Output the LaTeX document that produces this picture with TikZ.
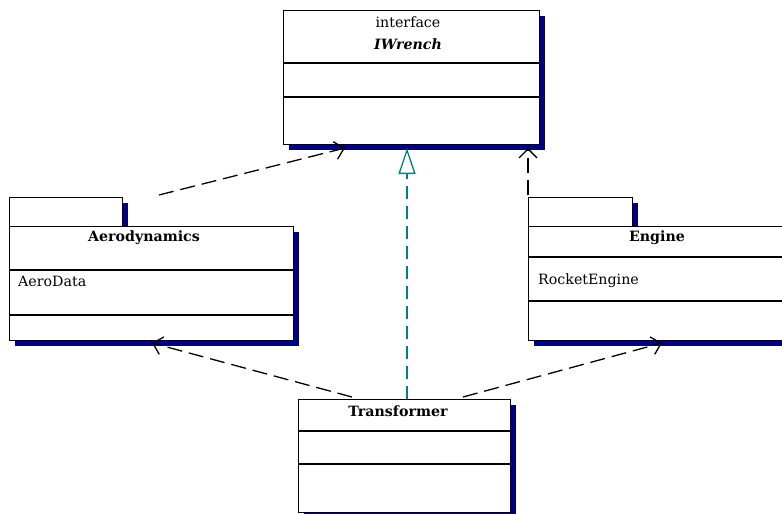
\documentclass[tikz,border=0pt]{standalone}
\usepackage{fontspec}
\setmainfont{DejaVu Serif}
\usetikzlibrary{arrows.meta,shadows}
\definecolor{shadowc}{RGB}{0,0,128}
\definecolor{realc}{RGB}{0,128,128}
\tikzset{
  umlbox/.style={draw=black, line width=1.2pt, fill=white, anchor=north west, inner sep=0pt,
    general shadow={fill=shadowc, shadow xshift=5pt, shadow yshift=-5pt}},
  divider/.style={draw=black, line width=1.2pt},
  txt/.style={inner sep=0pt, font=\fontsize{14.2}{16}\selectfont},
  dep/.style={draw=black, line width=1.3pt, dash pattern=on 15pt off 7pt,
    -{Straight Barb[length=9pt,width=18pt,line width=1.3pt]}},
  real/.style={draw=realc, line width=1.3pt, dash pattern=on 13pt off 7pt,
    -{Triangle[open, length=26pt, width=17pt, line width=1.3pt]}},
}
\begin{document}
\begin{tikzpicture}[x=1pt,y=-1pt]
\useasboundingbox (0,0) rectangle (782,514);
% IWrench
\node[umlbox, minimum width=256pt, minimum height=134pt] (iw) at (283,10) {};
\draw[divider] (283,63) -- (539,63);
\draw[divider] (283,97) -- (539,97);
\node[txt] (iwst) at (408,22) {interface};
\node[txt, font=\fontsize{14.2}{16}\selectfont\bfseries\itshape] (iwn) at (408,44) {IWrench};
% Aerodynamics package
\node[umlbox, minimum width=113pt, minimum height=29pt] (aerotab) at (9,197) {};
\node[umlbox, minimum width=284pt, minimum height=114pt] (aero) at (9,226) {};
\draw[divider] (9,270) -- (293,270);
\draw[divider] (9,315) -- (293,315);
\node[txt, font=\fontsize{14.2}{16}\selectfont\bfseries] (aeron) at (144,238) {Aerodynamics};
\node[txt, anchor=west] (aerod) at (18,281) {AeroData};
% Engine package
\node[umlbox, minimum width=104pt, minimum height=29pt] (engtab) at (528,197) {};
\node[umlbox, minimum width=258pt, minimum height=114pt] (eng) at (528,226) {};
\draw[divider] (528,257) -- (786,257);
\draw[divider] (528,301) -- (786,301);
\node[txt, font=\fontsize{14.2}{16}\selectfont\bfseries] (engn) at (657,238) {Engine};
\node[txt, anchor=west] (engd) at (538,281) {RocketEngine};
% Transformer
\node[umlbox, minimum width=212pt, minimum height=113pt] (tr) at (298,399) {};
\draw[divider] (298,431) -- (510,431);
\draw[divider] (298,464) -- (510,464);
\node[txt, font=\fontsize{14.2}{16}\selectfont\bfseries] (trn) at (398,411) {Transformer};
% connector end points
\coordinate (a1) at (159,195);
\coordinate (iwA) at (345,148);
\coordinate (iwB) at (407,148);
\coordinate (iwC) at (528,148);
\coordinate (e1) at (528,195);
\coordinate (t1) at (407,399);
\coordinate (t2) at (352,397);
\coordinate (t3) at (463,397);
\coordinate (aeroB) at (152,343);
\coordinate (engB) at (662,343);
% connectors
\draw[dep] (a1) -- (iwA);
\draw[real] (t1) -- (iwB);
\draw[dep] (e1) -- (iwC);
\draw[dep] (t2) -- (aeroB);
\draw[dep] (t3) -- (engB);
\end{tikzpicture}
\end{document}
